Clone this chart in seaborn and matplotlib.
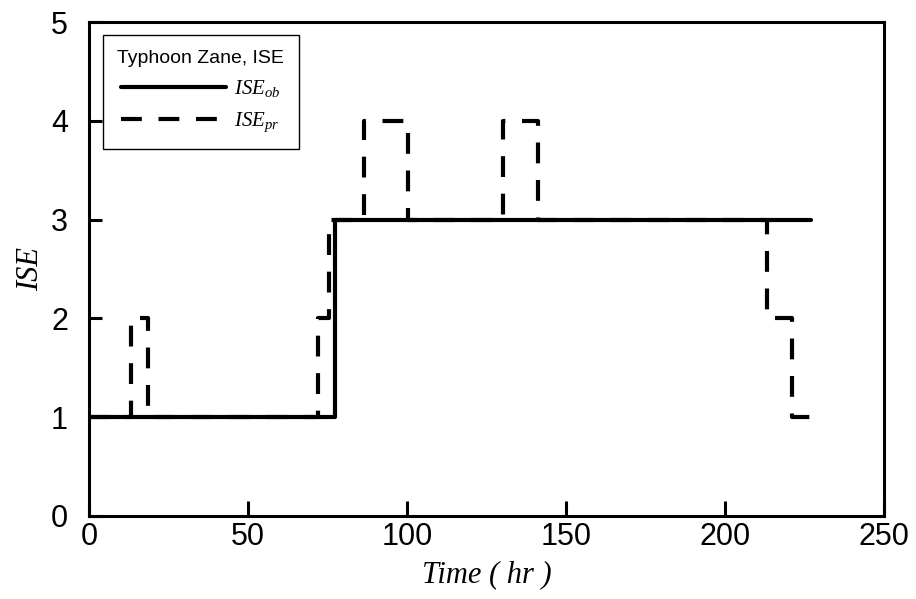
import matplotlib
matplotlib.use("Agg")
import matplotlib.pyplot as plt
import seaborn as sns
import pandas as pd

# Observed and predicted intensity (ISE) steps for Typhoon Zane
time_ob = [0, 77.4, 227.0]
ise_ob = [1, 3, 3]

time_pr = [0, 13.4, 18.5, 72.0, 75.5, 86.6, 100.4, 130.3, 141.3, 213.1, 221.0, 227.2]
ise_pr = [1, 2, 1, 2, 3, 4, 3, 4, 3, 2, 1, 1]

x_ticks = [0, 50, 100, 150, 200, 250]
y_ticks = [0, 1, 2, 3, 4, 5]

legend_title = "Typhoon Zane, ISE"
label_ob = r"$ISE_{ob}$"
label_pr = r"$ISE_{pr}$"

sns.set_style("white")
plt.rcParams["font.family"] = ["Liberation Sans", "DejaVu Sans"]
plt.rcParams["mathtext.fontset"] = "custom"
plt.rcParams["mathtext.it"] = "Liberation Serif:italic"
plt.rcParams["mathtext.rm"] = "Liberation Serif"
plt.rcParams["text.color"] = "black"
plt.rcParams["axes.labelcolor"] = "black"

df_ob = pd.DataFrame({"time": time_ob, "ise": ise_ob})
df_pr = pd.DataFrame({"time": time_pr, "ise": ise_pr})

fig = plt.figure(figsize=(9.16, 5.99), dpi=100)
ax = fig.add_axes([0.097, 0.1386, 0.868, 0.8244])

sns.lineplot(data=df_ob, x="time", y="ise", ax=ax, color="black", lw=3.0,
             drawstyle="steps-post", estimator=None, sort=False, label=label_ob)
sns.lineplot(data=df_pr, x="time", y="ise", ax=ax, color="black", lw=3.0,
             drawstyle="steps-post", estimator=None, sort=False, label=label_pr,
             dashes=False)
ax.lines[1].set_dashes((5, 4))

ax.set_xlim(0, 250)
ax.set_ylim(0, 5)
ax.set_xticks(x_ticks)
ax.set_yticks(y_ticks)

for s in ax.spines.values():
    s.set_linewidth(2.2)
    s.set_color("black")
    s.set_visible(True)

ax.tick_params(axis="x", direction="in", length=11, width=2.2, pad=4,
               labelsize=22, bottom=True, top=False, colors="black")
ax.tick_params(axis="y", direction="in", length=9, width=2.2, pad=15,
               labelsize=22, left=True, right=False, colors="black")

ax.set_xlabel("Time ( hr )", fontsize=22, fontstyle="italic",
              family="Liberation Serif", labelpad=6, color="black")
ax.set_ylabel("ISE", fontsize=22, fontstyle="italic",
              family="Liberation Serif", labelpad=4, color="black")

leg = ax.legend(title=legend_title, loc="upper left",
                bbox_to_anchor=(0.0176, 0.974), borderaxespad=0,
                fontsize=15, title_fontsize=14, handlelength=5.0,
                handletextpad=0.4, labelspacing=0.55, borderpad=0.7,
                fancybox=False, framealpha=1, edgecolor="black")
leg.get_frame().set_linewidth(1.0)
leg.get_title().set_family("Liberation Sans")
leg.get_title().set_color("black")

fig.savefig("out.png", dpi=100)
